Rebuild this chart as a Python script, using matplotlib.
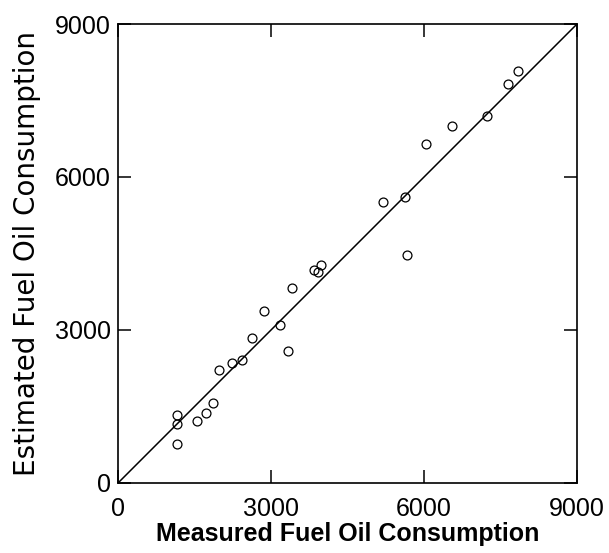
import matplotlib
matplotlib.use("Agg")
import matplotlib.pyplot as plt

# measured vs estimated fuel oil consumption
measured = [1150, 1150, 1150, 1543, 1726, 1857, 1981, 2229, 2438, 2634,
            2857, 3177, 3334, 3412, 3850, 3916, 3987, 5203, 5628, 5667,
            6040, 6544, 7236, 7648, 7850]
estimated = [1333, 1157, 759, 1209, 1373, 1569, 2222, 2360, 2412, 2850,
             3379, 3092, 2595, 3824, 4171, 4132, 4269, 5504, 5602, 4477,
             6654, 7007, 7203, 7824, 8079]
line_x = [0, 9000]
line_y = [0, 9000]
ticks = [0, 3000, 6000, 9000]

fig = plt.figure(figsize=(6.09, 5.53), dpi=100)
ax = fig.add_axes([0.1938, 0.1266, 0.7537, 0.830])

ax.plot(line_x, line_y, color="black", linewidth=1.1)
ax.plot(measured, estimated, linestyle="none", marker="o", markersize=6.4,
        markerfacecolor="none", markeredgecolor="black", markeredgewidth=0.9)

ax.set_xlim(0, 9000)
ax.set_ylim(0, 9000)
ax.set_xticks(ticks)
ax.set_yticks(ticks)
ax.tick_params(direction="in", length=9.5, width=1.1, top=True, right=True,
               labelsize=18)
ax.tick_params(axis="x", pad=10)
ax.tick_params(axis="y", pad=5)
for label in ax.get_xticklabels() + ax.get_yticklabels():
    label.set_family("Liberation Sans")
for spine in ax.spines.values():
    spine.set_linewidth(1.2)

ax.set_xlabel("Measured Fuel Oil Consumption", fontsize=18, fontweight="bold",
              family="Liberation Sans", labelpad=1)
ax.set_ylabel("Estimated Fuel Oil Consumption", fontsize=20,
              family="DejaVu Sans", labelpad=10)

fig.savefig("out.png", dpi=100)
